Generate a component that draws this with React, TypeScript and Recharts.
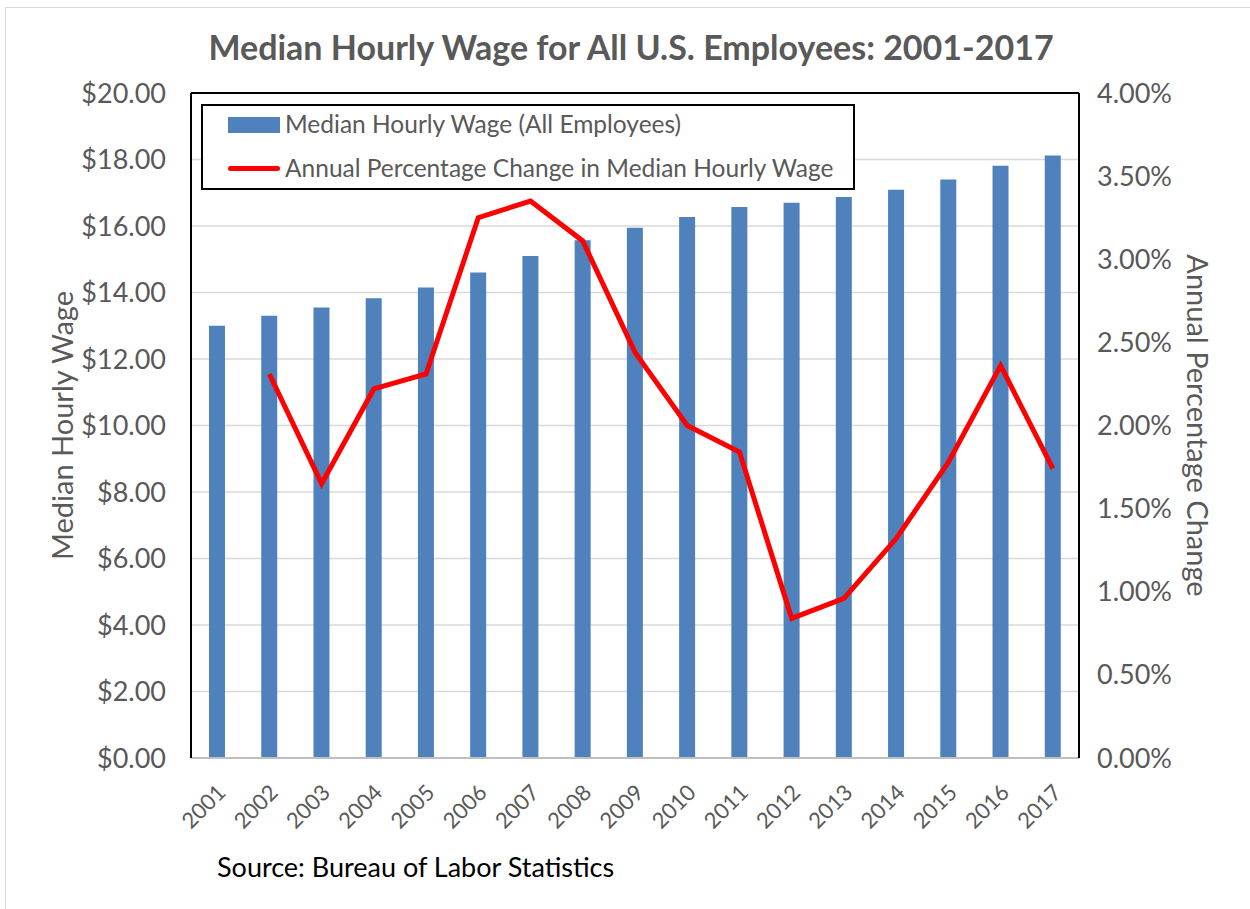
import React from 'react';
import { ComposedChart, Bar, Line, XAxis, YAxis, CartesianGrid, Legend, ReferenceLine } from 'recharts';

const years = ['2001', '2002', '2003', '2004', '2005', '2006', '2007', '2008', '2009', '2010', '2011', '2012', '2013', '2014', '2015', '2016', '2017'];
const medianWage = [13.0, 13.3, 13.55, 13.83, 14.15, 14.6, 15.1, 15.57, 15.95, 16.27, 16.57, 16.7, 16.87, 17.09, 17.4, 17.81, 18.12];
const pctChange = [null, 2.31, 1.65, 2.22, 2.31, 3.25, 3.35, 3.11, 2.44, 2.0, 1.84, 0.84, 0.96, 1.32, 1.78, 2.36, 1.74];
const wageTicks = [0, 2, 4, 6, 8, 10, 12, 14, 16, 18, 20];
const pctTicks = [0, 0.5, 1, 1.5, 2, 2.5, 3, 3.5, 4];

const title = 'Median Hourly Wage for All U.S. Employees: 2001-2017';
const source = 'Source: Bureau of Labor Statistics';
const barName = 'Median Hourly Wage (All Employees)';
const lineName = 'Annual Percentage Change in Median Hourly Wage';

const data = years.map((year, i) => ({ year, wage: medianWage[i], pct: pctChange[i] }));

const FONT = 'Lato, "Open Sans", sans-serif';
const GREY = '#595959';
const BLUE = '#4f81bd';
const RED = '#ff0000';

function YearTick({ x, y, payload }: any) {
  const ax = x + 10;
  const ay = y + 36;
  return (
    <text x={ax} y={ay} textAnchor="end" fill={GREY} fontSize={22} fontFamily={FONT} transform={`rotate(-45, ${ax}, ${ay})`}>
      {payload.value}
    </text>
  );
}

function LegendBox() {
  const text = { position: 'absolute' as const, left: 82, fontSize: 24.5, color: GREY, fontFamily: FONT, lineHeight: '28px', whiteSpace: 'nowrap' as const };
  return (
    <div style={{ position: 'relative', width: 654, height: 86, border: '2px solid #000', boxSizing: 'border-box', background: '#fff' }}>
      <div style={{ position: 'absolute', left: 25, top: 11, width: 52, height: 16, background: BLUE }} />
      <div style={{ ...text, top: 4 }}>{barName}</div>
      <div style={{ position: 'absolute', left: 25, top: 60, width: 52, height: 5, background: RED, borderRadius: 3 }} />
      <div style={{ ...text, top: 48 }}>{lineName}</div>
    </div>
  );
}

export default function App() {
  return (
    <div style={{ position: 'relative', width: 1250, height: 909, background: '#fff', overflow: 'hidden', fontFamily: FONT }}>
      <style>{'body{margin:0}'}</style>
      <div style={{ position: 'absolute', left: 5, top: 7, width: 1300, height: 1000, borderLeft: '1px solid #d9d9d9', borderTop: '1px solid #d9d9d9' }} />
      <ComposedChart width={1250} height={909} data={data} margin={{ top: 93, right: 61, left: 91, bottom: 71 }}>
        <CartesianGrid vertical={false} stroke="#d9d9d9" strokeWidth={1.5} yAxisId="wage" />
        <XAxis
          dataKey="year"
          interval={0}
          height={80}
          tickLine={false}
          tickSize={0}
          tickMargin={0}
          axisLine={{ stroke: '#bfbfbf', strokeWidth: 2 }}
          tick={<YearTick />}
        />
        <YAxis
          yAxisId="wage"
          width={100}
          domain={[0, 20]}
          ticks={wageTicks}
          tickFormatter={(v: number) => `$${v.toFixed(2)}`}
          tickLine={false}
          tickSize={0}
          tickMargin={25}
          axisLine={{ stroke: '#000', strokeWidth: 2 }}
          tick={{ fill: GREY, fontSize: 27, fontFamily: FONT }}
          label={{ value: 'Median Hourly Wage', angle: -90, position: 'insideLeft', offset: -28, fill: GREY, fontSize: 29, fontFamily: FONT, style: { textAnchor: 'middle' } }}
        />
        <YAxis
          yAxisId="pct"
          orientation="right"
          width={110}
          domain={[0, 4]}
          ticks={pctTicks}
          tickFormatter={(v: number) => `${v.toFixed(2)}%`}
          tickLine={false}
          tickSize={0}
          tickMargin={18}
          axisLine={{ stroke: '#000', strokeWidth: 2 }}
          tick={{ fill: GREY, fontSize: 27, fontFamily: FONT }}
          label={{ value: 'Annual Percentage Change', angle: 90, position: 'insideRight', offset: -8, fill: GREY, fontSize: 29, fontFamily: FONT, style: { textAnchor: 'middle' } }}
        />
        <ReferenceLine yAxisId="wage" y={20} stroke="#000" strokeWidth={2} />
        <Legend
          layout="vertical"
          align="center"
          verticalAlign="middle"
          content={<LegendBox />}
          wrapperStyle={{ position: 'absolute', left: 201, top: 104, width: 654, height: 86 }}
        />
        <Bar yAxisId="wage" dataKey="wage" name={barName} fill={BLUE} barSize={16} isAnimationActive={false} />
        <Line yAxisId="pct" dataKey="pct" name={lineName} stroke={RED} strokeWidth={5} dot={false} activeDot={false} isAnimationActive={false} />
      </ComposedChart>
      <div style={{ position: 'absolute', left: 0, width: 1262, top: 26, textAlign: 'center', fontSize: 34, fontWeight: 700, color: GREY }}>{title}</div>
      <div style={{ position: 'absolute', left: 217, top: 850, fontSize: 27, color: '#000' }}>{source}</div>
    </div>
  );
}
